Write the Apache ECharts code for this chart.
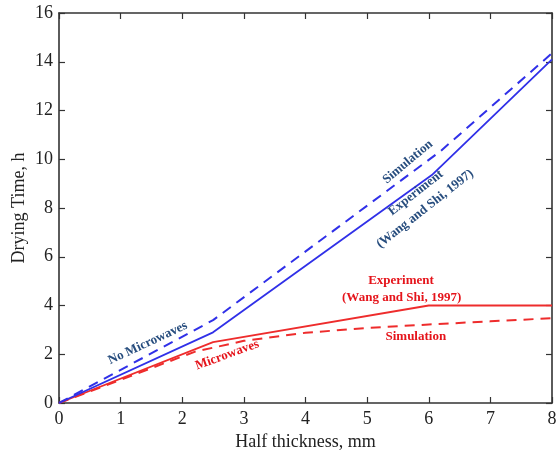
<!DOCTYPE html>
<html>
<head>
<meta charset="utf-8">
<script src="https://cdn.jsdelivr.net/npm/echarts@6/dist/echarts.min.js"></script>
<style>html,body{margin:0;padding:0;background:#fff}#c{width:556px;height:456px}</style>
</head>
<body>
<div id="c"></div>
<script>
// Data
var blueExpX = [0, 2.5, 6.05, 8];
var blueExpY = [0, 2.9, 9.35, 14.1];
var blueSimX = [0, 2.5, 6.2, 8];
var blueSimY = [0, 3.4, 10.35, 14.35];
var redExpX = [0, 2.5, 6, 8];
var redExpY = [0, 2.5, 4, 4];
var redSimX = [0, 2.2, 3, 4, 5, 6, 7, 8];
var redSimY = [0, 2.1, 2.55, 2.88, 3.08, 3.22, 3.35, 3.48];
var xTicks = [0, 1, 2, 3, 4, 5, 6, 7, 8];
var yTicks = [0, 2, 4, 6, 8, 10, 12, 14, 16];

// annotations: text, data x, data y, rotation (deg), colour key
var annText = ['No Microwaves', 'Microwaves', 'Simulation', 'Experiment', '(Wang and Shi, 1997)', 'Experiment', '(Wang and Shi, 1997)', 'Simulation'];
var annX = [1.44, 2.73, 5.66, 5.79, 5.94, 5.55, 5.56, 5.79];
var annY = [2.46, 1.97, 9.89, 8.62, 7.96, 5.0, 4.31, 2.71];
var annRot = [25, 20, 40, 38, 38, 0, 0, 0];
var annCol = ['b', 'r', 'b', 'b', 'b', 'r', 'r', 'r'];

function pairs(xs, ys) { return xs.map(function (x, i) { return [x, ys[i]]; }); }

var BLUE = '#3030e8', RED = '#ee2c2c';
var BLUE_T = '#274d7e', RED_T = '#e5141b';
var FONT = '"Liberation Serif", "Times New Roman", serif';

var chart = echarts.init(document.getElementById('c'));
function axis(extra) {
  return Object.assign({
    type: 'value',
    axisLine: { show: true, onZero: false, lineStyle: { color: '#333', width: 1.6 } },
    axisTick: { show: true, inside: true, length: 6, lineStyle: { color: '#333', width: 1.2 } },
    splitLine: { show: false },
    axisLabel: { color: '#222', fontFamily: FONT, fontSize: 18 }
  }, extra);
}
chart.setOption({
  animation: false,
  backgroundColor: '#fff',
  grid: { left: 59, right: 4, top: 13, bottom: 53, containLabel: false, outerBoundsMode: 'none' },
  xAxis: [
    axis({
      min: 0, max: 8, interval: 1, position: 'bottom',
      name: 'Half thickness, mm', nameLocation: 'middle', nameGap: 30, nameMoveOverlap: false,
      nameTextStyle: { color: '#222', fontFamily: FONT, fontSize: 18 },
      axisLabel: { color: '#222', fontFamily: FONT, fontSize: 18, margin: 7 }
    }),
    axis({ min: 0, max: 8, interval: 1, position: 'top', axisLabel: { show: false } })
  ],
  yAxis: [
    axis({
      min: 0, max: 16, interval: 2, position: 'left',
      name: 'Drying Time, h', nameLocation: 'middle', nameGap: 31, nameMoveOverlap: false,
      nameTextStyle: { color: '#222', fontFamily: FONT, fontSize: 18 },
      axisLabel: { color: '#222', fontFamily: FONT, fontSize: 18, margin: 6 }
    }),
    axis({ min: 0, max: 16, interval: 2, position: 'right', axisLabel: { show: false } })
  ],
  series: [
    { type: 'line', data: pairs(redSimX, redSimY), symbol: 'none', lineStyle: { color: RED, width: 2, type: [10, 7] }, z: 2 },
    { type: 'line', data: pairs(redExpX, redExpY), symbol: 'none', lineStyle: { color: RED, width: 1.8 }, z: 3 },
    { type: 'line', data: pairs(blueSimX, blueSimY), symbol: 'none', lineStyle: { color: BLUE, width: 2, type: [10, 7] }, z: 2 },
    { type: 'line', data: pairs(blueExpX, blueExpY), symbol: 'none', lineStyle: { color: BLUE, width: 1.8 }, z: 3 }
  ]
});

var els = annText.map(function (t, i) {
  var p = chart.convertToPixel({ gridIndex: 0 }, [annX[i], annY[i]]);
  return {
    type: 'text', x: p[0], y: p[1], rotation: annRot[i] * Math.PI / 180,
    style: {
      text: t, x: 0, y: 0, align: 'center', verticalAlign: 'middle',
      fill: annCol[i] === 'b' ? BLUE_T : RED_T,
      font: 'bold 13px ' + FONT
    },
    z: 10
  };
});
chart.setOption({ graphic: els });
</script>
</body>
</html>
